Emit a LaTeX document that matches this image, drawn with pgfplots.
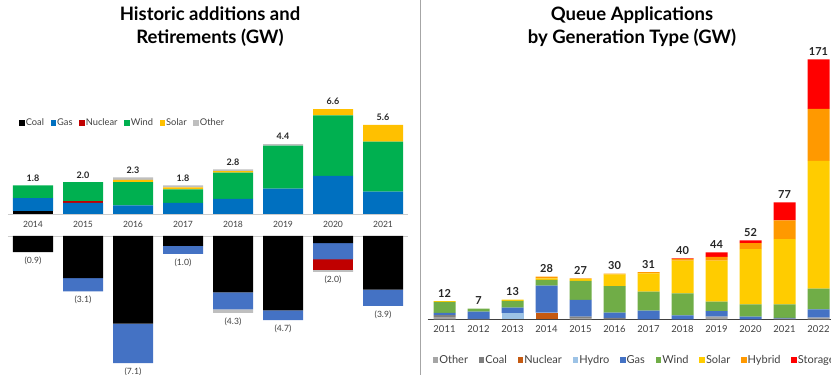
\documentclass[border=0pt]{standalone}
\usepackage{fontspec}
\setmainfont{Lato}
\usepackage{pgfplots}
\pgfplotsset{compat=1.18}
\usepackage{pgfplotstable}

\definecolor{lcoal}{HTML}{000000}
\definecolor{lgas}{HTML}{0070C0}
\definecolor{lnuc}{HTML}{C00000}
\definecolor{lwind}{HTML}{00B050}
\definecolor{lsolar}{HTML}{FFC000}
\definecolor{lother}{HTML}{BFBFBF}
\definecolor{ngas}{HTML}{4472C4}
\definecolor{rother}{HTML}{A5A5A5}
\definecolor{rcoal}{HTML}{7F7F7F}
\definecolor{rnuc}{HTML}{C55A11}
\definecolor{rhydro}{HTML}{9DC3E6}
\definecolor{rgas}{HTML}{4472C4}
\definecolor{rwind}{HTML}{70AD47}
\definecolor{rsolar}{HTML}{FFCC00}
\definecolor{rhybrid}{HTML}{FF9900}
\definecolor{rstor}{HTML}{FF0000}
\definecolor{txt}{HTML}{404040}

\pgfplotstableread{
x coal gas nuc wind solar other total
0 0.2 0.8 0 0.8 0 0 1.8
1 0 0.7 0.1 1.2 0 0 2.0
2 0 0.55 0 1.45 0.15 0.15 2.3
3 0 0.7 0 0.85 0.13 0.12 1.8
4 0 0.95 0 1.65 0.1 0.1 2.8
5 0 1.6 0 2.7 0 0.1 4.4
6 0 2.4 0 3.8 0.4 0 6.6
7 0 1.4 0 3.15 1.05 0 5.6
}\addpos

\pgfplotstableread{
x coal gas nuc other total ntotal
0 -0.9 0 0 0 0.9 -0.9
1 -2.35 -0.75 0 0 3.1 -3.1
2 -4.9 -2.2 0 0 7.1 -7.1
3 -0.55 -0.45 0 0 1.0 -1.0
4 -3.15 -0.95 0 -0.2 4.3 -4.3
5 -4.15 -0.55 0 0 4.7 -4.7
6 -0.4 -0.9 -0.6 -0.1 2.0 -2.0
7 -3.0 -0.9 0 0 3.9 -3.9
}\retire

\pgfplotstableread{
x other coal nuc hydro gas wind solar hybrid stor total
0 1.5 1.2 0 0 1.6 7.2 0.5 0 0 12
1 0 0.3 0 0 4.7 2.0 0 0 0 7
2 0 0 0 4.0 3.6 4.6 0.8 0 0 13
3 0 0 4.4 0 17.8 3.7 1.1 1.0 0 28
4 1.0 0.75 0 0 11 12.5 1.1 0.65 0 27
5 0 0.9 0 0 3.5 17.5 7.7 0.4 0 30
6 0 0 0 0 5.7 12.5 12.0 0.8 0 31
7 0 0 0 0 2.6 14.5 21.5 1.1 0.3 40
8 1.75 0 0 0 3.7 6.1 27 2.6 2.85 44
9 0 0 0 0 1.75 8.1 36.3 3.9 1.95 52
10 0 0.4 0 0 0.5 9 42.8 12.3 12.0 77
11 1.1 0 0 0 5.5 13.5 84.2 34.1 32.6 171
}\queue

\pgfplotsset{
  /pgf/number format/assume math mode=true,
  sq legend/.style={legend image code/.code={\fill[##1,draw=none] (0em,-0.28em) rectangle (0.56em,0.28em);}},
  leftpos/.style={at={(8pt,161pt)}, anchor=south west, scale only axis,
    width=400pt, height=111.3pt, xmin=-0.5, xmax=7.5, ymin=0, ymax=7, clip=false},
  leftneg/.style={at={(8pt,139pt)}, anchor=north west, scale only axis,
    width=400pt, height=134.25pt, xmin=-0.5, xmax=7.5, ymin=-7.5, ymax=0, clip=false},
  rightq/.style={at={(427.5pt,55.7pt)}, anchor=south west, scale only axis,
    width=408pt, height=273.6pt, xmin=-0.5, xmax=11.5, ymin=0, ymax=180, clip=false},
}

\begin{document}
\begin{tikzpicture}
\path[use as bounding box] (0,0) rectangle (831pt,375pt);
\clip (0,0) rectangle (831pt,375pt);

% divider
\draw[black!35, line width=1pt] (420.5pt,0pt) -- (420.5pt,375pt);

% titles
\node[font=\bfseries\fontsize{18.5}{23}\selectfont, align=center] at (210pt,348.5pt) {Historic additions and\\Retirements (GW)};
\node[font=\bfseries\fontsize{18.5}{23}\selectfont, align=center] at (632pt,348.5pt) {Queue Applications\\by Generation Type (GW)};

% left: additions
\begin{axis}[
  leftpos,
  ybar stacked, bar width=40pt,
  axis y line=none, axis x line*=bottom,
  x axis line style={-, draw=black!20, line width=0.8pt},
  xtick={0,...,7}, xticklabels={2014,2015,2016,2017,2018,2019,2020,2021},
  major tick length=0pt,
  xticklabel style={font=\fontsize{8.6}{10}\selectfont, text=txt, yshift=-4pt},
  every axis plot/.append style={draw=none},
  sq legend,
  legend columns=-1,
  legend style={at={(0.02,0.818)}, anchor=west, draw=none, fill=none,
    font=\fontsize{9.3}{10}\selectfont, text=txt,
    /tikz/every even column/.append style={column sep=4.6pt},
    /tikz/every odd column/.append style={column sep=-1pt}},
  legend entries={Coal,Gas,Nuclear,Wind,Solar,Other},
]
\addplot[fill=lcoal] table[x=x,y=coal]{\addpos};
\addplot[fill=lgas] table[x=x,y=gas]{\addpos};
\addplot[fill=lnuc] table[x=x,y=nuc]{\addpos};
\addplot[fill=lwind] table[x=x,y=wind]{\addpos};
\addplot[fill=lsolar] table[x=x,y=solar]{\addpos};
\addplot[fill=lother] table[x=x,y=other]{\addpos};
\end{axis}
\begin{axis}[leftpos, axis lines=none]
\addplot[draw=none, mark=none, point meta=explicit,
  nodes near coords={\pgfmathprintnumber[fixed,fixed zerofill,precision=1]{\pgfplotspointmeta}},
  every node near coord/.append style={font=\bfseries\fontsize{9}{10}\selectfont, text=black!85, anchor=south, yshift=0.5pt}]
  table[x=x,y=total,meta=total]{\addpos};
\end{axis}

% left: retirements
\begin{axis}[
  leftneg,
  ybar stacked, bar width=40pt,
  axis y line=none, axis x line*=top,
  x axis line style={-, draw=black!20, line width=0.8pt},
  xtick=\empty,
  every axis plot/.append style={draw=none},
]
\addplot[fill=lcoal] table[x=x,y=coal]{\retire};
\addplot[fill=ngas] table[x=x,y=gas]{\retire};
\addplot[fill=lnuc] table[x=x,y=nuc]{\retire};
\addplot[fill=lother] table[x=x,y=other]{\retire};
\end{axis}
\begin{axis}[leftneg, axis lines=none]
\addplot[draw=none, mark=none, point meta=explicit,
  nodes near coords={(\pgfmathprintnumber[fixed,fixed zerofill,precision=1]{\pgfplotspointmeta})},
  every node near coord/.append style={font=\fontsize{8.6}{10}\selectfont, text=txt, anchor=north, yshift=-1pt}]
  table[x=x,y=ntotal,meta=total]{\retire};
\end{axis}

% right: queue
\begin{axis}[
  rightq,
  ybar stacked, bar width=22pt,
  axis y line=none, axis x line*=bottom,
  x axis line style={-, draw=black!75, line width=0.8pt},
  xtick={0,...,11}, xticklabels={2011,2012,2013,2014,2015,2016,2017,2018,2019,2020,2021,2022},
  major tick length=0pt,
  xticklabel style={font=\fontsize{9.5}{10}\selectfont, text=txt, yshift=-3pt},
  every axis plot/.append style={draw=none},
  sq legend,
  legend columns=-1,
  legend style={at={(0.005,-0.149)}, anchor=west, draw=none, fill=none,
    font=\fontsize{11}{12}\selectfont, text=txt,
    /tikz/every even column/.append style={column sep=8.8pt},
    /tikz/every odd column/.append style={column sep=-1pt}},
  legend entries={Other,Coal,Nuclear,Hydro,Gas,Wind,Solar,Hybrid,Storage},
]
\addplot[fill=rother] table[x=x,y=other]{\queue};
\addplot[fill=rcoal] table[x=x,y=coal]{\queue};
\addplot[fill=rnuc] table[x=x,y=nuc]{\queue};
\addplot[fill=rhydro] table[x=x,y=hydro]{\queue};
\addplot[fill=rgas] table[x=x,y=gas]{\queue};
\addplot[fill=rwind] table[x=x,y=wind]{\queue};
\addplot[fill=rsolar] table[x=x,y=solar]{\queue};
\addplot[fill=rhybrid] table[x=x,y=hybrid]{\queue};
\addplot[fill=rstor] table[x=x,y=stor]{\queue};
\end{axis}
\begin{axis}[rightq, axis lines=none]
\addplot[draw=none, mark=none, point meta=explicit,
  nodes near coords={\pgfmathprintnumber{\pgfplotspointmeta}},
  every node near coord/.append style={font=\bfseries\fontsize{11}{12}\selectfont, text=black!85, anchor=south, yshift=0.5pt}]
  table[x=x,y=total,meta=total]{\queue};
\end{axis}
\end{tikzpicture}
\end{document}
